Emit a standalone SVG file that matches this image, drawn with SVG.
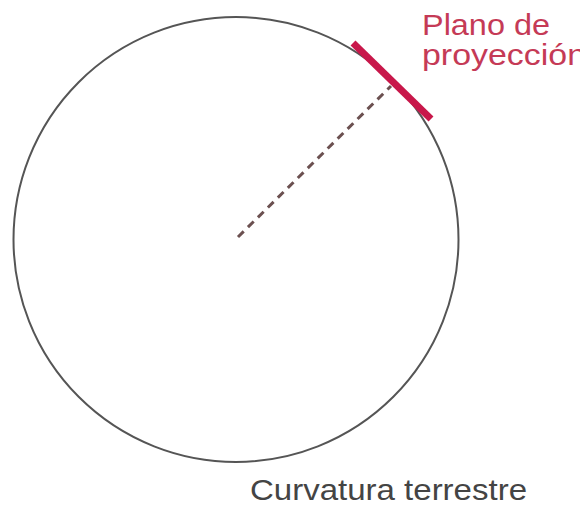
<svg xmlns="http://www.w3.org/2000/svg" width="580" height="506" viewBox="0 0 580 506">
<style>
.lbl{font-family:"Liberation Sans",Arial,sans-serif;font-size:30px}
.red{fill:#c53a56}
.gray{fill:#444}
</style>
<rect width="580" height="506" fill="#fff"/>
<g id="earth">
<circle cx="236" cy="239.5" r="222.5" fill="none" stroke="#555" stroke-width="2"/>
</g>
<g id="connectors">
<line x1="238" y1="237" x2="391" y2="86" stroke="#6b5050" stroke-width="3" stroke-dasharray="8,6"/>
</g>
<g id="plane">
<line x1="353" y1="43" x2="431" y2="119" stroke="#c8174a" stroke-width="7"/>
</g>
<g id="label-plane">
<text class="lbl red" x="422" y="35" textLength="128" lengthAdjust="spacingAndGlyphs">Plano de</text>
<text class="lbl red" x="422" y="65" textLength="164" lengthAdjust="spacingAndGlyphs">proyección</text>
</g>
<g id="label-earth">
<text class="lbl gray" x="250" y="500" textLength="277" lengthAdjust="spacingAndGlyphs">Curvatura terrestre</text>
</g>
</svg>
